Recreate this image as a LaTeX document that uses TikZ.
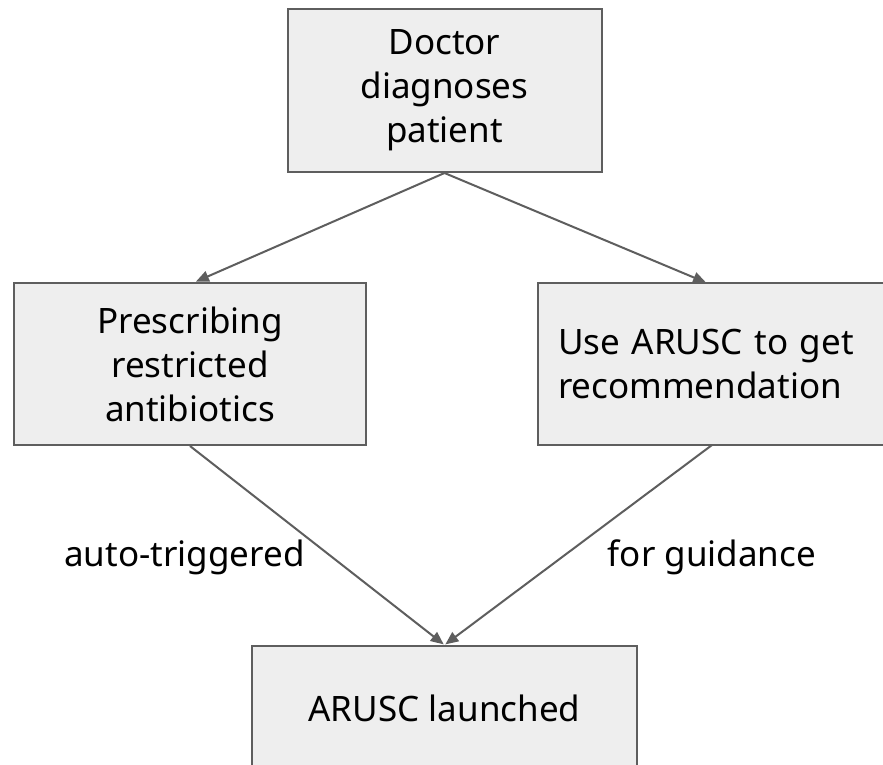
\documentclass[tikz,border=0pt]{standalone}
\usepackage{fontspec}
\setmainfont{Noto Sans}
\usepackage{tikz}
\usetikzlibrary{arrows.meta,positioning}
\definecolor{flowInk}{HTML}{5E5E5E}
\definecolor{flowFill}{HTML}{EEEEEE}

\begin{document}
\begin{tikzpicture}[
  x=1pt, y=-1pt,
  font=\fontsize{35}{44}\selectfont,
  box/.style={draw=flowInk, fill=flowFill, line width=2pt, align=center, inner sep=0pt},
  flow/.style={-{Triangle[length=13pt, width=11pt]}, line width=2pt, draw=flowInk, shorten >=1pt},
  label/.style={anchor=base, inner sep=0pt}
]
  \clip (0,0) rectangle (883,764);
  \fill[white] (0,0) rectangle (883,764);

  \node[box, minimum width=314pt, minimum height=163pt] (doctor) at (444.5,90.5) {Doctor\\diagnoses\\patient};
  \node[box, minimum width=352pt, minimum height=162pt] (prescribe) at (190,364) {Prescribing\\restricted\\antibiotics};
  \node[box, align=left, text width=330pt, inner xsep=20pt, minimum height=162pt, anchor=west] (arusc) at (537,364) {Use ARUSC to get\\recommendation};
  \node[box, minimum width=385pt, minimum height=124pt, anchor=north] (launch) at (444.5,645) {ARUSC launched};

  \coordinate (aruscIn) at (707,283);
  \coordinate (aruscOut) at (712,445);

  \draw[flow] (doctor.south) -- (prescribe.north -| 195,0);
  \draw[flow] (doctor.south) -- (aruscIn);
  \draw[flow] (prescribe.south) -- (launch.north);
  \draw[flow] (aruscOut) -- (launch.north);

  \node[label] (auto) at (184.5,566) {auto-triggered};
  \node[label] (guide) at (712,566) {for guidance};
\end{tikzpicture}
\end{document}
